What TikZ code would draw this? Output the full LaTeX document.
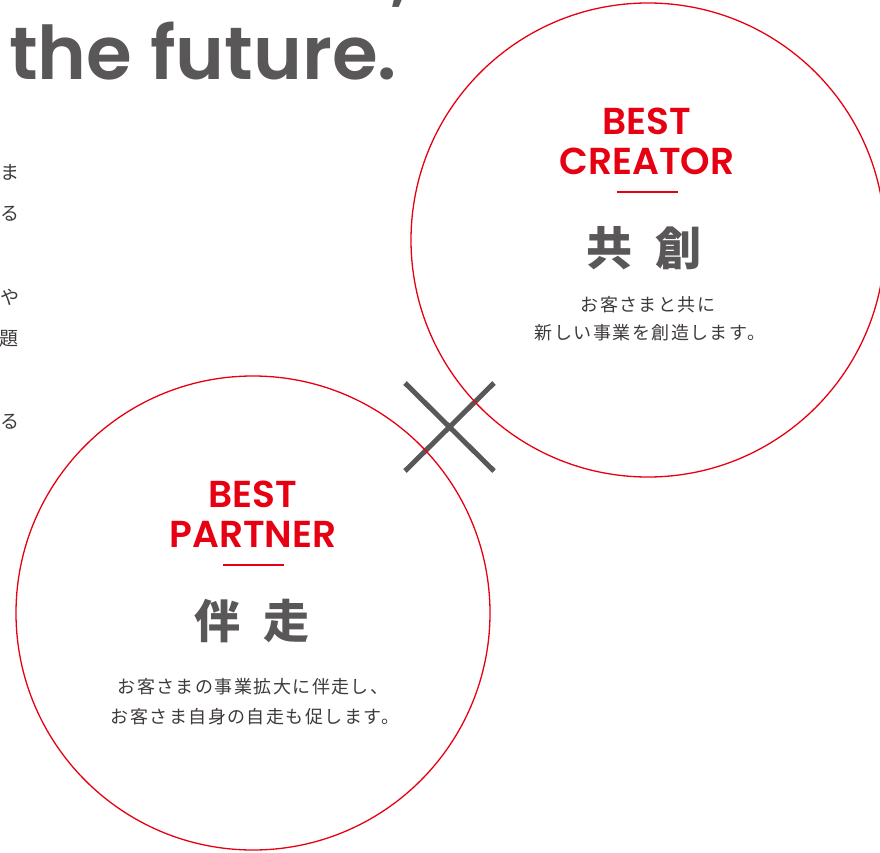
\documentclass[tikz,border=0pt]{standalone}
\usepackage{fontspec}
\usepackage{xcolor}
\newfontfamily\geofont{Poppins}[BoldFont={* SemiBold}]
\newfontfamily\jpfont{Noto Sans CJK JP}
\newfontfamily\jpwide{Noto Sans CJK JP}[LetterSpace=8]
\definecolor{brandred}{HTML}{E60012}
\definecolor{headgray}{HTML}{595757}
\definecolor{inkgray}{HTML}{3E3A39}
\usetikzlibrary{positioning}

\begin{document}
\begin{tikzpicture}
[   x=1pt, y=-1pt,
    ring/.style={draw=brandred, line width=1.3pt, circle, minimum size=474pt, inner sep=0pt},
    catch/.style={text=brandred, inner sep=0pt, font=\geofont\bfseries\fontsize{37.5}{40}\selectfont},
    kanji/.style={text=headgray, inner sep=0pt, font=\jpfont\bfseries\fontsize{46}{50}\selectfont},
    lead/.style={text=inkgray, inner sep=0pt, font=\jpwide\fontsize{18}{31}\selectfont},
    margin/.style={text=inkgray, inner sep=0pt, font=\jpfont\fontsize{19}{22}\selectfont},
    bar/.style={draw=brandred, line width=1.2pt},
    heading/.style={inner sep=0pt, text=headgray, font=\geofont\bfseries\fontsize{74}{80}\selectfont},
]

    \useasboundingbox (0,0) rectangle (880,853);

    % heading, cut by the top edge
    \begin{scope}
    \clip (0,0) rectangle (880,853);
    \node[heading, anchor=base east] (comma) at (410,-2) {,};
    \node[heading, anchor=base west] (future) at (9,80) {the future.};
    \end{scope}

    % line ends of the paragraph on the left
    \node[margin] (m1) at (10,172) {ま};
    \node[margin] (m2) at (10,214) {る};
    \node[margin] (m3) at (10,297) {や};
    \node[margin] (m4) at (9,339) {題};
    \node[margin] (m5) at (10,422) {る};

    % cross
    \coordinate (xa) at (405,383);
    \coordinate (xb) at (494,471);
    \coordinate (xc) at (405,471);
    \coordinate (xd) at (494,383);
    \draw[draw=headgray, line width=5pt] (xa) -- (xb);
    \draw[draw=headgray, line width=5pt] (xc) -- (xd);

    \node[ring] (creator) at (648,240) {};
    \node[ring] (partner) at (253,613) {};

    % BEST CREATOR
    \node[catch, anchor=base] (bestA) at (647,135) {BEST};
    \node[catch, anchor=base] (creatorT) at (647,175) {CREATOR};
    \coordinate (ra) at (617,192);
    \coordinate (rb) at (678,192);
    \draw[bar] (ra) -- (rb);
    \node[kanji] (kyoso) at (644,248) {共\hspace{0.5em}創};
    \node[lead] (leadA1) at (648,305) {お客さまと共に};
    \node[lead] (leadA2) at (650,333) {新しい事業を創造します。};

    % BEST PARTNER
    \node[catch, anchor=base] (bestB) at (253,507) {BEST};
    \node[catch, anchor=base] (partnerT) at (253,547) {PARTNER};
    \coordinate (rc) at (223,565);
    \coordinate (rd) at (284,565);
    \draw[bar] (rc) -- (rd);
    \node[kanji] (banso) at (252,621) {伴\hspace{0.5em}走};
    \node[lead] (leadB1) at (253,687) {お客さまの事業拡大に伴走し、};
    \node[lead] (leadB2) at (255,717) {お客さま自身の自走も促します。};

\end{tikzpicture}
\end{document}
